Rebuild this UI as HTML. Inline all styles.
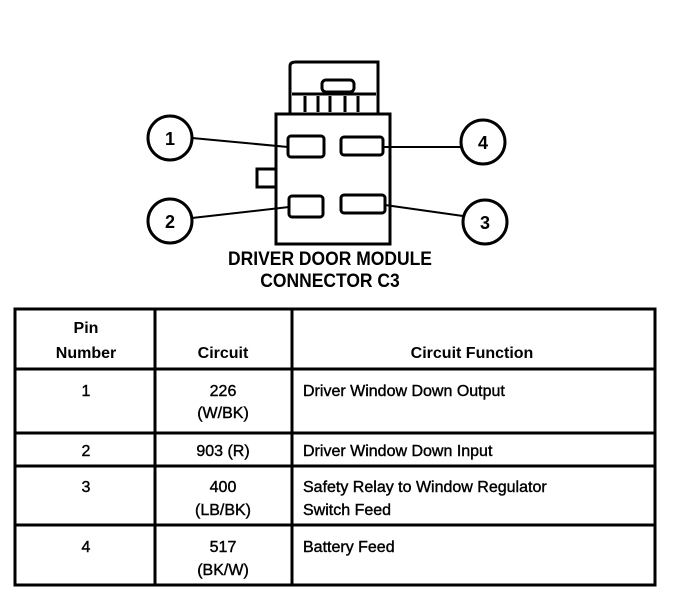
<!DOCTYPE html>
<html><head><style>
body{margin:0;background:#fff;width:688px;height:602px;overflow:hidden;font-family:"Liberation Sans",Arial,sans-serif}
svg{position:absolute;left:0;top:0}
</style></head><body>
<svg width="688" height="602" viewBox="0 0 688 602">
<g fill="none" stroke="#000" stroke-width="3">
<path d="M290 113 V66 Q290 62 296 62 H378 V113"/>
<path d="M292 94 H376"/>
<rect x="322" y="80" width="32" height="12" rx="4"/>
<path d="M305 96 V112 M318 96 V112 M330 96 V112 M345 96 V112 M358 96 V112"/>
<rect x="276" y="114" width="114" height="130"/>
<rect x="257" y="169" width="19" height="18"/>
<rect x="288" y="136" width="36" height="21" rx="3"/>
<rect x="341" y="137" width="42" height="18" rx="3"/>
<rect x="289" y="196" width="34" height="21" rx="3"/>
<rect x="341" y="195" width="44" height="18" rx="3"/>
<circle cx="170" cy="138" r="22"/>
<circle cx="483" cy="142" r="22"/>
<circle cx="170" cy="221" r="22"/>
<circle cx="485" cy="222" r="22"/>
<path d="M192 138 L288 147" stroke-width="2"/>
<path d="M383 147 L461 147" stroke-width="2"/>
<path d="M192 218 L289 207" stroke-width="2"/>
<path d="M385 205 L463 216" stroke-width="2"/>
</g>
<g font-weight="bold" font-size="18" text-anchor="middle">
<text x="170" y="145">1</text><text x="483" y="149">4</text>
<text x="170" y="228">2</text><text x="485" y="229">3</text>
</g>
<g font-weight="bold" font-size="19" text-anchor="middle" transform="translate(330 0) scale(0.92 1)">
<text x="0" y="265">DRIVER DOOR MODULE</text>
<text x="0" y="287">CONNECTOR C3</text>
</g>
<g stroke="#000" fill="none">
<rect x="15" y="309" width="640" height="276" stroke-width="3"/>
<path d="M155 309 V585 M292 309 V585" stroke-width="3"/>
<path d="M15 369 H655 M15 433 H655 M15 466 H655 M15 525 H655" stroke-width="3"/>
</g>
<g font-size="16" font-weight="bold" text-anchor="middle">
<text x="86" y="333">Pin</text><text x="86" y="358">Number</text>
<text x="223" y="358">Circuit</text>
<text x="472" y="358">Circuit Function</text>
</g>
<g font-size="16" text-anchor="middle" stroke="#000" stroke-width="0.4">
<text x="86" y="396">1</text><text x="223" y="396">226</text><text x="223" y="418">(W/BK)</text>
<text x="86" y="456">2</text><text x="223" y="456">903 (R)</text>
<text x="86" y="492">3</text><text x="223" y="492">400</text><text x="223" y="515">(LB/BK)</text>
<text x="86" y="552">4</text><text x="223" y="552">517</text><text x="223" y="575">(BK/W)</text>
</g>
<g font-size="16" stroke="#000" stroke-width="0.4">
<text x="303" y="396">Driver Window Down Output</text>
<text x="303" y="456">Driver Window Down Input</text>
<text x="303" y="492">Safety Relay to Window Regulator</text>
<text x="303" y="515">Switch Feed</text>
<text x="303" y="552">Battery Feed</text>
</g>
</svg>
</body></html>
